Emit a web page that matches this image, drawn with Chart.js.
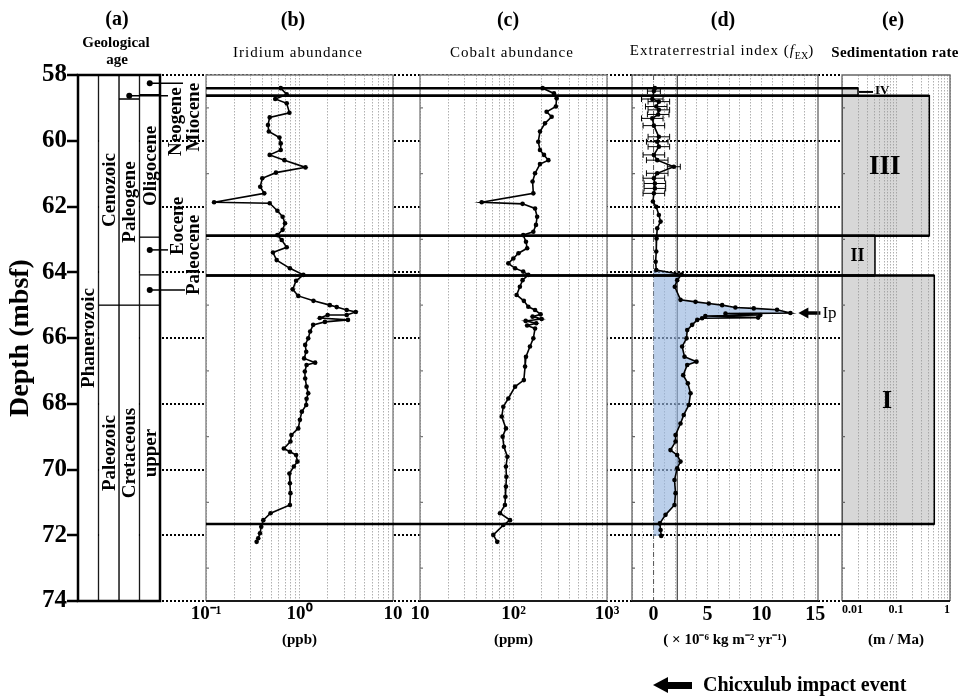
<!DOCTYPE html>
<html lang="en">
<head>
<meta charset="utf-8">
<title>Ir, Co and fEX depth profiles</title>
<script src="https://cdn.jsdelivr.net/npm/chart.js@4.4.1/dist/chart.umd.min.js"></script>
<style>
  body { margin: 0; background: #fff; }
  #page { position: relative; width: 963px; height: 697px; overflow: hidden;
          font-family: "Liberation Serif", "Times New Roman", serif; color: #000; }
  #page canvas { position: absolute; left: 0; top: 0; }
  .lbl { position: absolute; transform: translate(-50%, -50%); white-space: nowrap; }
  .big { font-size: 20px; font-weight: bold; line-height: 20px; }
  .sub { font-size: 15px; line-height: 15px; letter-spacing: 1px; }
  .sub sub { font-size: 10px; letter-spacing: 0; }
  .bold { font-weight: bold; }
  #arrow { position: absolute; left: 653px; top: 677px; width: 40px; height: 16px; }
  #arrow .head { position: absolute; left: 0; top: 0; width: 0; height: 0;
                 border-top: 8px solid transparent; border-bottom: 8px solid transparent; border-right: 15px solid #000; }
  #arrow .shaft { position: absolute; left: 14px; top: 4.5px; width: 25px; height: 7px; background: #000; }
  #impact { position: absolute; left: 703px; top: 684px; transform: translateY(-50%);
            font-size: 20px; font-weight: bold; line-height: 20px; white-space: nowrap; }
</style>
</head>
<body>
<div id="page">
  <canvas id="grid" width="963" height="697"></canvas>
  <canvas id="ages" width="963" height="697"></canvas>
  <canvas id="iridium" width="963" height="697"></canvas>
  <canvas id="cobalt" width="963" height="697"></canvas>
  <canvas id="fex" width="963" height="697"></canvas>
  <canvas id="rate" width="963" height="697"></canvas>

  <div class="lbl big" style="left:117px;top:18px">(a)</div>
  <div class="lbl bold" style="left:116px;top:42px;font-size:15px;line-height:15px">Geological</div>
  <div class="lbl bold" style="left:117px;top:59px;font-size:15px;line-height:15px">age</div>
  <div class="lbl big" style="left:293px;top:19px">(b)</div>
  <div class="lbl sub" style="left:298px;top:52px">Iridium abundance</div>
  <div class="lbl big" style="left:508px;top:19px">(c)</div>
  <div class="lbl sub" style="left:512px;top:52px">Cobalt abundance</div>
  <div class="lbl big" style="left:723px;top:19px">(d)</div>
  <div class="lbl sub" style="left:722px;top:53px">Extraterrestrial index (<i>f</i><sub>EX</sub>)</div>
  <div class="lbl big" style="left:893px;top:19px">(e)</div>
  <div class="lbl sub bold" style="left:895px;top:52px;letter-spacing:0.3px">Sedimentation rate</div>

  <div id="arrow"><span class="head"></span><span class="shaft"></span></div>
  <div id="impact">Chicxulub impact event</div>
</div>

<script>
// depth axis (mbsf)
const depthMin = 58;
const depthMax = 74;

// (a) geological age column
const ageColumns = ['eon', 'era', 'period', 'epoch'];
const ageNames   = ['Phanerozoic', 'Cenozoic', 'Paleozoic', 'Neogene', 'Paleogene', 'Cretaceous',
                    'Miocene', 'Oligocene', 'Eocene', 'Paleocene', 'upper'];
const ageColumn  = [0, 1, 1, 2, 2, 2, 3, 3, 3, 3, 3];
const ageTop     = [58, 58, 65.0, 58, 58.73, 65.0, 58, 58.6, 62.93, 64.08, 65.0];
const ageBottom  = [74, 65.0, 74, 58.73, 65.0, 74, 58.6, 62.93, 64.08, 65.0, 74];
// depth of the dot for names written beside the column (null = written inside)
const agePointer = [null, null, null, 58.63, null, null, 58.25, null, 63.32, 64.54, null];

// (b) iridium, ppb
const irDepth = [58.40, 58.59, 58.73, 58.86, 59.15, 59.29, 59.52, 59.72, 59.90, 60.08,
                 60.28, 60.43, 60.59, 60.81, 60.97, 61.14, 61.40, 61.60, 61.87, 61.90,
                 62.13, 62.31, 62.51, 62.71, 62.87, 63.02, 63.24, 63.40, 63.63, 63.88,
                 64.08, 64.26, 64.52, 64.72, 64.87, 65.00, 65.06, 65.15, 65.21, 65.30,
                 65.30, 65.39, 65.45, 65.51, 65.60, 65.80, 66.01, 66.21, 66.42, 66.62,
                 66.75, 66.82, 67.02, 67.23, 67.48, 67.68, 67.85, 68.04, 68.24, 68.49,
                 68.75, 68.95, 69.15, 69.36, 69.46, 69.56, 69.76, 69.91, 70.12, 70.42,
                 70.72, 71.08, 71.33, 71.54, 71.74, 71.94, 72.09, 72.20];
const irValue = [0.63, 0.73, 0.55, 0.73, 0.78, 0.48, 0.46, 0.47, 0.61, 0.63,
                 0.63, 0.48, 0.69, 1.16, 0.56, 0.40, 0.38, 0.42, 0.122, 0.48,
                 0.58, 0.66, 0.70, 0.66, 0.58, 0.645, 0.73, 0.52, 0.57, 0.79,
                 1.10, 0.92, 0.845, 0.97, 1.41, 2.11, 2.5, 3.2, 4.0, 3.2,
                 2.0, 1.65, 3.3, 1.87, 1.40, 1.30, 1.24, 1.15, 1.18, 1.12,
                 1.47, 1.19, 1.14, 1.15, 1.19, 1.24, 1.19, 1.18, 1.06, 1.01,
                 0.97, 0.82, 0.80, 0.68, 0.79, 0.92, 0.95, 0.87, 0.78, 0.79,
                 0.80, 0.79, 0.49, 0.41, 0.39, 0.378, 0.362, 0.348];
const irTicks = [0.1, 1, 10];
const irTickLabels = ['10⁻¹', '10⁰', '10'];

// (c) cobalt, ppm
const coDepth = [58.40, 58.56, 58.71, 58.96, 59.12, 59.27, 59.47, 59.72, 60.03, 60.28,
                 60.43, 60.59, 60.71, 60.99, 61.24, 61.60, 61.87, 61.92, 62.06, 62.31,
                 62.56, 62.77, 62.87, 63.07, 63.27, 63.42, 63.58, 63.73, 63.88, 63.98,
                 64.08, 64.24, 64.44, 64.69, 64.87, 65.05, 65.15, 65.28, 65.35, 65.42,
                 65.48, 65.55, 65.62, 65.71, 66.01, 66.26, 66.57, 66.87, 67.28, 67.48,
                 67.84, 68.09, 68.39, 68.75, 69.00, 69.31, 69.61, 69.91, 70.22, 70.52,
                 70.83, 71.08, 71.33, 71.54, 71.69, 71.99, 72.20];
const coValue = [205, 271, 289, 284, 226, 256, 217, 192, 184, 192,
                 212, 236, 192, 170, 160, 163, 45.7, 125, 170, 179,
                 174, 163, 127, 136, 140, 113, 99.6, 88, 104, 127,
                 144, 125, 117, 108, 129, 144, 170, 195, 160, 200,
                 135, 175, 140, 170, 163, 150, 136, 133, 129, 104,
                 88, 77.8, 74.9, 83, 76.5, 79, 86, 83, 84, 83,
                 82, 81, 71.7, 91.8, 77.8, 60.8, 67];
const coTicks = [10, 100, 1000];
const coTickLabels = ['10', '10²', '10³'];

// (d) extraterrestrial index fEX, 1e-6 kg m-2 yr-1
const fexDepth = [58.40, 58.49, 58.73, 58.81, 58.96, 59.06, 59.20, 59.32, 59.54, 59.88,
                  60.03, 60.18, 60.43, 60.59, 60.79, 60.99, 61.14, 61.30, 61.45, 61.60,
                  61.85, 62.01, 62.26, 62.46, 62.66, 62.97, 63.37, 63.68, 63.93, 64.07,
                  64.24, 64.44, 64.84, 64.90, 64.95, 65.00, 65.07, 65.10, 65.14, 65.24,
                  65.26, 65.30, 65.33, 65.38, 65.40, 65.45, 65.60, 65.76, 66.01, 66.26,
                  66.57, 66.72, 66.82, 67.13, 67.38, 67.68, 68.04, 68.34, 68.60, 68.95,
                  69.15, 69.41, 69.56, 69.76, 69.96, 70.32, 70.72, 71.08, 71.38, 71.64,
                  71.84, 72.02];
const fexValue = [0.12, 0.03, -0.12, 0.49, 0.25, 0.49, 0.43, -0.12, 0.03, 0.49,
                  0.34, 0.49, 0.03, 0.34, 1.88, 0.34, 0.03, 0.12, 0.12, 0.03,
                  -0.06, 0.25, 0.49, 0.65, 0.34, 0.28, 0.25, 0.19, 0.25, 2.6,
                  2.19, 1.97, 2.5, 3.89, 5.12, 6.36, 7.59, 9.29, 11.45, 12.69,
                  6.67, 9.9, 4.8, 9.7, 4.5, 4.05, 3.58, 3.12, 3.06, 2.65,
                  2.87, 3.98, 3.12, 2.75, 3.18, 3.43, 3.27, 2.80, 2.50, 2.04,
                  2.04, 1.57, 2.19, 2.50, 2.19, 1.94, 2.04, 1.94, 1.11, 0.58,
                  0.65, 0.71];
// error half-widths of the first points (upper section)
const fexError = [0, 0.6, 1.0, 1.0, 1.0, 1.0, 1.0, 1.0, 1.0, 1.0,
                  1.0, 1.0, 1.0, 1.0, 0.6, 1.0, 1.0, 1.0, 1.0, 1.0];
const fexShadeFrom = 63.9;     // shaded area below this depth
const fexGuides = [0, 2.2];    // zero line and background level
const fexTicks = [0, 5, 10, 15];
const fexTickLabels = ['0', '5', '10', '15'];

// (e) sedimentation rate, m / Ma
const unitNames  = ['IV', 'III', 'II', 'I'];
const unitTop    = [58.40, 58.63, 62.89, 64.10];
const unitBottom = [58.63, 62.89, 64.10, 71.66];
const unitRate   = [0.0198, 0.414, 0.0408, 0.512];
const rateTicks = [0.01, 0.1, 1];
const rateTickLabels = ['0.01', '0.1', '1'];

// ---------- layout ----------
const W = 963, H = 697;
const TOP = 75, BOTTOM = 601;   // pixel rows of the depth range
const SERIF = '"Liberation Serif", "Times New Roman", serif';

Chart.defaults.font.family = SERIF;
Chart.defaults.color = '#000';

function pad(left, right, axisBelow) {
    return { left: left, right: W - right, top: TOP, bottom: axisBelow ? 0 : H - BOTTOM };
}

function depthAxis() {
    return { type: 'linear', reverse: true, min: depthMin, max: depthMax, display: false };
}

function logGrid(min, max) {
    const out = [];
    for (let d = min; d < max * 0.999; d *= 10) {
        for (let k = 1; k < 10; k++) out.push(d * k);
    }
    out.push(max);
    return out;
}

function stepGrid(min, max, step) {
    const out = [];
    for (let v = Math.ceil(min / step) * step; v <= max + 1e-9; v += step) out.push(+v.toFixed(6));
    return out;
}

function labelFor(ticks, labels) {
    return v => {
        const i = ticks.findIndex(t => Math.abs(t - v) < 1e-6 * Math.max(1, Math.abs(t)));
        return i < 0 ? '' : labels[i];
    };
}

function valueAxis(type, min, max, grid, ticks, labels, title, size, align) {
    return {
        type: type, min: min, max: max,
        afterBuildTicks: s => { s.ticks = grid.map(v => ({ value: v })); },
        afterFit: s => { s.height = H - BOTTOM; },
        ticks: { autoSkip: false, maxRotation: 0, minRotation: 0, padding: 2, align: align || 'center',
                 font: { size: size, weight: 'bold' }, callback: labelFor(ticks, labels) },
        grid: { color: '#b0b0b0', lineWidth: 1, drawTicks: false },
        border: { display: false, dash: [1.5, 1.5] },
        title: { display: true, text: title, font: { size: 15, weight: 'bold' },
                 padding: { top: 0, bottom: 48 } }
    };
}

function points(depths, values) {
    return depths.map((d, i) => ({ x: values[i], y: d }));
}

const baseOptions = {
    responsive: false, animation: false, events: [], devicePixelRatio: 1
};

// white panel background, grey sides, dark bottom, small inner ticks
const panelFrame = {
    id: 'panelFrame',
    beforeDraw(chart, args, opts) {
        if (!opts.fill) return;
        const a = chart.chartArea, ctx = chart.ctx;
        ctx.save();
        ctx.fillStyle = opts.fill;
        ctx.fillRect(a.left, a.top, a.right - a.left, a.bottom - a.top);
        ctx.restore();
    },
    afterDraw(chart, args, opts) {
        const a = chart.chartArea, ctx = chart.ctx, y = chart.scales.y;
        ctx.save();
        ctx.strokeStyle = opts.side || '#7a7a7a';
        ctx.lineWidth = 1.3;
        ctx.beginPath();
        ctx.moveTo(a.left, a.bottom);
        ctx.lineTo(a.left, a.top);
        ctx.lineTo(a.right, a.top);
        ctx.lineTo(a.right, a.bottom);
        for (let d = y.min + 1; d < y.max; d += 2) {
            const p = y.getPixelForValue(d);
            ctx.moveTo(a.left, p);
            ctx.lineTo(a.left + 3, p);
        }
        ctx.stroke();
        ctx.strokeStyle = '#1a1a1a';
        ctx.lineWidth = 2;
        ctx.beginPath();
        ctx.moveTo(a.left, a.bottom);
        ctx.lineTo(a.right, a.bottom);
        ctx.stroke();
        ctx.restore();
    }
};

// ---------- depth axis and dotted depth lines ----------
new Chart(document.getElementById('grid'), {
    type: 'line',
    data: { datasets: [] },
    options: Object.assign({}, baseOptions, {
        layout: { padding: { left: 0, right: W - 842, top: TOP, bottom: H - BOTTOM } },
        plugins: { legend: { display: false }, tooltip: { enabled: false } },
        scales: {
            x: { type: 'linear', min: 0, max: 1, display: false },
            y: {
                type: 'linear', reverse: true, min: depthMin, max: depthMax,
                afterFit: s => { s.width = 78; },
                ticks: { stepSize: 2, padding: 0, font: { size: 25, weight: 'bold' } },
                grid: { color: '#000', lineWidth: 2, tickLength: 11, tickWidth: 2.5,
                        tickColor: '#000', tickBorderDash: [] },
                border: { display: false, dash: [2, 2] },
                title: { display: true, text: 'Depth (mbsf)', font: { size: 28, weight: 'bold' },
                         padding: { top: 4, bottom: 0 } }
            }
        }
    })
});

// ---------- (a) geological age ----------
const ageMarks = {
    id: 'ageMarks',
    afterDraw(chart, args, opts) {
        const { ctx, chartArea: a } = chart;
        const x = chart.scales.x, y = chart.scales.y;
        ctx.save();
        ctx.strokeStyle = '#000';
        ctx.lineWidth = 2.5;
        ctx.strokeRect(a.left, a.top, a.right - a.left, a.bottom - a.top);
        ctx.fillStyle = '#000';
        ctx.font = 'bold 19px ' + SERIF;
        ctx.textAlign = 'center';
        ctx.textBaseline = 'middle';
        ageNames.forEach((name, i) => {
            const cx = x.getPixelForValue(ageColumn[i]);
            let tx, ty;
            if (agePointer[i] === null) {
                tx = cx;
                ty = y.getPixelForValue((ageTop[i] + ageBottom[i]) / 2);
            } else {
                const o = opts.outside[name];
                const py = y.getPixelForValue(agePointer[i]);
                ctx.beginPath();
                ctx.arc(cx, py, 3, 0, Math.PI * 2);
                ctx.fill();
                ctx.lineWidth = 1.5;
                ctx.beginPath();
                ctx.moveTo(cx, py);
                ctx.lineTo(a.right + o.line, py);
                ctx.stroke();
                tx = a.right + o.dx;
                ty = py + o.dy;
            }
            ctx.save();
            ctx.translate(tx + 1, ty);
            ctx.rotate(-Math.PI / 2);
            ctx.fillText(name, 0, 0);
            ctx.restore();
        });
        ctx.restore();
    }
};

new Chart(document.getElementById('ages'), {
    type: 'bar',
    data: {
        labels: ageColumns,
        datasets: ageNames.map((name, i) => ({
            label: name,
            data: ageColumns.map((c, j) => (j === ageColumn[i] ? [ageTop[i], ageBottom[i]] : null)),
            backgroundColor: '#fff', borderColor: '#000', borderWidth: 1,
            borderSkipped: false, grouped: false, categoryPercentage: 1, barPercentage: 1
        }))
    },
    options: Object.assign({}, baseOptions, {
        layout: { padding: pad(78, 160, false) },
        plugins: {
            legend: { display: false }, tooltip: { enabled: false },
            ageMarks: {
                outside: {
                    Neogene:   { line: 8,  dx: 15, dy: 26 },
                    Miocene:   { line: 23, dx: 33, dy: 34 },
                    Eocene:    { line: 8,  dx: 17, dy: -24 },
                    Paleocene: { line: 25, dx: 33, dy: -35 }
                }
            }
        },
        scales: { x: { display: false }, y: depthAxis() }
    }),
    plugins: [ageMarks]
});

// ---------- (b) iridium ----------
const lineStyle = {
    borderColor: '#000', borderWidth: 1.6, pointRadius: 2.3, pointBorderWidth: 0,
    pointBackgroundColor: '#000', tension: 0, fill: false
};

new Chart(document.getElementById('iridium'), {
    type: 'line',
    data: { datasets: [Object.assign({ data: points(irDepth, irValue) }, lineStyle)] },
    options: Object.assign({}, baseOptions, {
        indexAxis: 'y',
        layout: { padding: pad(206, 393, true) },
        plugins: { legend: { display: false }, tooltip: { enabled: false }, panelFrame: { fill: '#fff' } },
        scales: {
            x: valueAxis('logarithmic', 0.1, 10, logGrid(0.1, 10), irTicks, irTickLabels, '(ppb)', 19),
            y: depthAxis()
        }
    }),
    plugins: [panelFrame]
});

// ---------- (c) cobalt ----------
new Chart(document.getElementById('cobalt'), {
    type: 'line',
    data: { datasets: [Object.assign({ data: points(coDepth, coValue) }, lineStyle)] },
    options: Object.assign({}, baseOptions, {
        indexAxis: 'y',
        layout: { padding: pad(420, 607, true) },
        plugins: { legend: { display: false }, tooltip: { enabled: false }, panelFrame: { fill: '#fff' } },
        scales: {
            x: valueAxis('logarithmic', 10, 1000, logGrid(10, 1000), coTicks, coTickLabels, '(ppm)', 19),
            y: depthAxis()
        }
    }),
    plugins: [panelFrame]
});

// ---------- (d) fEX ----------
const fexMarks = {
    id: 'fexMarks',
    afterDatasetsDraw(chart, args, opts) {
        const ctx = chart.ctx, x = chart.scales.x, y = chart.scales.y;
        ctx.save();
        ctx.strokeStyle = '#000';
        ctx.lineWidth = 1;
        fexError.forEach((e, i) => {
            if (!e) return;
            const py = y.getPixelForValue(fexDepth[i]);
            const x1 = x.getPixelForValue(fexValue[i] - e);
            const x2 = x.getPixelForValue(fexValue[i] + e);
            ctx.beginPath();
            ctx.moveTo(x1, py); ctx.lineTo(x2, py);
            ctx.moveTo(x1, py - 3); ctx.lineTo(x1, py + 3);
            ctx.moveTo(x2, py - 3); ctx.lineTo(x2, py + 3);
            ctx.stroke();
        });
        // arrow to the peak
        const k = fexValue.indexOf(Math.max(...fexValue));
        const px = x.getPixelForValue(fexValue[k]) + 8;
        const py = y.getPixelForValue(fexDepth[k]);
        ctx.fillStyle = '#000';
        ctx.lineWidth = 3.5;
        ctx.beginPath();
        ctx.moveTo(px + 8, py);
        ctx.lineTo(px + 22, py);
        ctx.stroke();
        ctx.beginPath();
        ctx.moveTo(px, py);
        ctx.lineTo(px + 10, py - 5.5);
        ctx.lineTo(px + 10, py + 5.5);
        ctx.closePath();
        ctx.fill();
        ctx.font = '17px ' + SERIF;
        ctx.textAlign = 'left';
        ctx.textBaseline = 'middle';
        ctx.fillText(opts.peakLabel, px + 24, py + 1);
        ctx.restore();
    }
};

const shaded = points(fexDepth, fexValue).filter(p => p.y >= fexShadeFrom);
shaded.push({ x: 0, y: shaded[shaded.length - 1].y }, { x: 0, y: shaded[0].y });

new Chart(document.getElementById('fex'), {
    type: 'line',
    data: {
        datasets: [
            Object.assign({ data: points(fexDepth, fexValue) }, lineStyle),
            { data: shaded, fill: 'shape', backgroundColor: 'rgba(150,182,222,0.65)',
              borderWidth: 0, pointRadius: 0, tension: 0 },
            { data: [{ x: fexGuides[0], y: depthMin }, { x: fexGuides[0], y: depthMax }],
              borderColor: '#555', borderWidth: 1, borderDash: [5, 4], pointRadius: 0 },
            { data: [{ x: fexGuides[1], y: depthMin }, { x: fexGuides[1], y: depthMax }],
              borderColor: '#444', borderWidth: 1.2, pointRadius: 0 }
        ]
    },
    options: Object.assign({}, baseOptions, {
        indexAxis: 'y',
        layout: { padding: pad(632, 818, true) },
        plugins: {
            legend: { display: false }, tooltip: { enabled: false },
            panelFrame: { fill: null, side: '#666' },
            fexMarks: { peakLabel: 'Ip' }
        },
        scales: {
            x: valueAxis('linear', -2, 15.25, stepGrid(-2, 15, 1), fexTicks, fexTickLabels,
                         '( × 10⁻⁶ kg m⁻² yr⁻¹)', 20),
            y: depthAxis()
        }
    }),
    plugins: [panelFrame, fexMarks]
});

// ---------- (e) sedimentation rate ----------
const unitMarks = {
    id: 'unitMarks',
    afterDraw(chart, args, opts) {
        const ctx = chart.ctx, x = chart.scales.x, y = chart.scales.y;
        ctx.save();
        ctx.strokeStyle = '#000';
        ctx.lineWidth = 2.5;
        unitNames.forEach((n, i) => {
            const xr = x.getPixelForValue(unitRate[i]);
            [unitTop[i], unitBottom[i]].forEach(d => {
                const py = y.getPixelForValue(d);
                ctx.beginPath();
                ctx.moveTo(opts.lineStart, py);
                ctx.lineTo(xr, py);
                ctx.stroke();
            });
        });
        ctx.fillStyle = '#000';
        ctx.textBaseline = 'middle';
        unitNames.forEach((n, i) => {
            const x0 = x.getPixelForValue(x.min), xr = x.getPixelForValue(unitRate[i]);
            const y0 = y.getPixelForValue(unitTop[i]), y1 = y.getPixelForValue(unitBottom[i]);
            ctx.font = 'bold ' + opts.fontSizes[i] + 'px ' + SERIF;
            if (y1 - y0 < 20) {
                const my = (y0 + y1) / 2;
                ctx.lineWidth = 2;
                ctx.beginPath();
                ctx.moveTo(xr + 1, my);
                ctx.lineTo(xr + 15, my);
                ctx.stroke();
                ctx.textAlign = 'left';
                ctx.fillText(n, xr + 17, my - 1);
            } else {
                ctx.textAlign = 'center';
                ctx.fillText(n, (x0 + xr) / 2 - 1, (y0 + y1) / 2 + 1);
            }
        });
        ctx.restore();
    }
};

new Chart(document.getElementById('rate'), {
    type: 'line',
    data: {
        datasets: unitNames.map((n, i) => ({
            label: n,
            data: [
                { x: rateTicks[0], y: unitTop[i] }, { x: unitRate[i], y: unitTop[i] },
                { x: unitRate[i], y: unitBottom[i] }, { x: rateTicks[0], y: unitBottom[i] },
                { x: rateTicks[0], y: unitTop[i] }
            ],
            fill: 'shape', backgroundColor: 'rgba(150,150,150,0.38)',
            borderColor: '#000', borderWidth: 1.5, pointRadius: 0, tension: 0
        }))
    },
    options: Object.assign({}, baseOptions, {
        layout: { padding: pad(842, 950, true) },
        plugins: {
            legend: { display: false }, tooltip: { enabled: false },
            panelFrame: { fill: '#fff', side: '#666' },
            unitMarks: { lineStart: 206, fontSizes: [13, 27, 18, 26] }
        },
        scales: {
            x: valueAxis('logarithmic', 0.01, 1, logGrid(0.01, 1), rateTicks, rateTickLabels,
                         '(m / Ma)', 12, 'inner'),
            y: depthAxis()
        }
    }),
    plugins: [panelFrame, unitMarks]
});
</script>
</body>
</html>
